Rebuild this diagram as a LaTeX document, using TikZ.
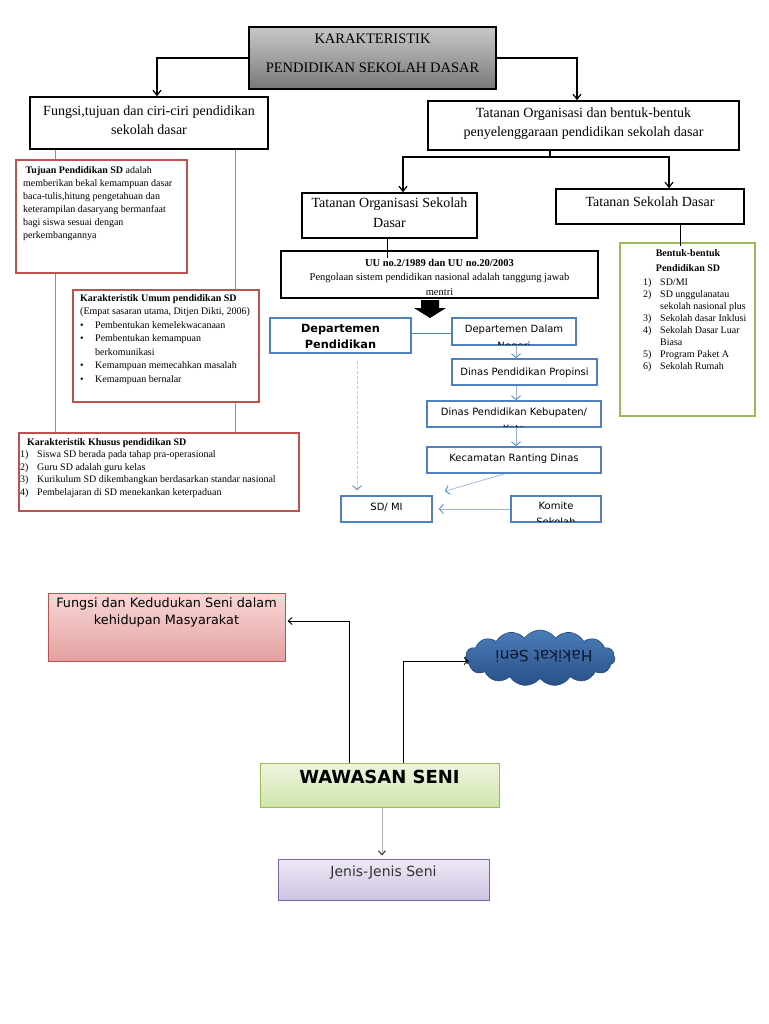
\documentclass[tikz,border=0pt]{standalone}
\usepackage{fontspec}
\setmainfont{Liberation Serif}
\newfontfamily\dejavu{DejaVu Sans}
\usetikzlibrary{arrows.meta,shapes.symbols}
\definecolor{pinkb}{RGB}{192,80,77}
\definecolor{pinkl}{RGB}{205,115,115}
\definecolor{blueb}{RGB}{79,129,189}
\definecolor{bluel}{RGB}{150,180,220}
\definecolor{greenb}{RGB}{155,187,89}
\definecolor{purpb}{RGB}{128,100,162}
\definecolor{cloudf}{RGB}{55,100,160}
\definecolor{cloudd}{RGB}{35,70,120}
\begin{document}
\begin{tikzpicture}[x=1pt,y=-1pt,
  bx/.style={draw, inner sep=0pt},
  blk/.style={bx, draw=black, line width=1.6pt},
  pk/.style={bx, draw=pinkb, line width=1.6pt},
  bl/.style={bx, draw=blueb, line width=1.4pt},
  gr/.style={bx, draw=greenb, line width=1.8pt},
  txt/.style={inner sep=0pt},
  arr/.style={line width=1.2pt, -{Straight Barb[length=5pt,width=8pt]}},
  arrs/.style={line width=0.9pt, -{Straight Barb[length=4pt,width=7pt]}},
  barr/.style={bluel, line width=0.7pt, -{Straight Barb[length=4pt,width=9pt,line width=1pt,color=blueb!85]}},
  pline/.style={pinkl, line width=1pt}
]
\useasboundingbox (0,0) rectangle (768,1024);
\fill[white] (0,0) rectangle (768,1024);

% ---------- top part ----------
\node[bx, draw=black, line width=2pt, minimum width=247pt, minimum height=62pt,
      top color={rgb,255:red,200;green,200;blue,200}, bottom color={rgb,255:red,120;green,120;blue,120}]
      (title) at (372.5,58) {};
\node[txt, anchor=base, align=center, font=\fontsize{14.5}{29}\selectfont] (titleT) at (372.5,73)
      {KARAKTERISTIK\\PENDIDIKAN SEKOLAH DASAR};

\node[blk, minimum width=238pt, minimum height=52pt] (fungsi) at (149,123) {};
\node[txt, anchor=base, align=center, font=\fontsize{14}{19}\selectfont] (fungsiT) at (149,135)
      {Fungsi,tujuan dan ciri-ciri pendidikan\\sekolah dasar};

\node[blk, minimum width=311pt, minimum height=49pt] (tatanan) at (583.5,125.5) {};
\node[txt, anchor=base, align=center, font=\fontsize{14}{19}\selectfont] (tatananT) at (583.5,137)
      {Tatanan Organisasi dan bentuk-bentuk\\penyelenggaraan pendidikan sekolah dasar};

\node[blk, minimum width=175pt, minimum height=45pt] (tos) at (389.5,215.5) {};
\node[txt, anchor=base, align=center, font=\fontsize{14}{20}\selectfont] (tosT) at (389.5,228)
      {Tatanan Organisasi Sekolah\\Dasar};

\node[blk, minimum width=188pt, minimum height=35pt] (tsd) at (650,206.5) {};
\node[txt, anchor=base, font=\fontsize{14}{18}\selectfont] (tsdT) at (650,207) {Tatanan Sekolah Dasar};

\node[blk, minimum width=317pt, minimum height=47pt] (uu) at (439.5,274.5) {};
\node[txt, anchor=base, align=center, font=\fontsize{10.5}{14.5}\selectfont] (uuT) at (439.5,295)
      {\textbf{UU no.2/1989 dan UU no.20/2003}\\Pengolaan sistem pendidikan nasional adalah tanggung jawab\\mentri};

% connectors top
\draw[arr] (title.west) -| ([xshift=8pt]fungsi.north);
\draw[arr] (title.east) -| ([xshift=-6.5pt]tatanan.north);
\coordinate (sp) at (550,157);
\draw[line width=1.2pt] ([xshift=-33.5pt]tatanan.south) -- (sp);
\draw[arr] (sp) -| ([xshift=13.5pt]tos.north);
\draw[arr] (sp) -| ([xshift=19pt]tsd.north);
\draw[line width=1pt] ([xshift=-2.5pt]tos.south) -- ([xshift=-2.5pt,yshift=-8pt]tos.south |- uu.north);

% big black arrow
\fill (421,300) -- (439,300) -- (439,308) -- (446,308) -- (430,318) -- (414,308) -- (421,308) -- cycle;

% ---------- left pink boxes ----------
\node[pk, minimum width=171pt, minimum height=113pt] (tujuan) at (101.5,216.5) {};
\node[txt, anchor=base west, align=left, font=\fontsize{10}{13.2}\selectfont] (tujuanT) at (23,239)
      {\ \textbf{Tujuan Pendidikan SD} adalah\\memberikan bekal kemampuan dasar\\baca-tulis,hitung pengetahuan dan\\keterampilan dasaryang bermanfaat\\bagi siswa sesuai dengan\\perkembangannya};

\node[pk, minimum width=186pt, minimum height=112pt] (umum) at (166,346) {};
\node[txt, anchor=base west, align=left, font=\fontsize{10}{13.5}\selectfont] (umumT) at (80,382)
      {\textbf{Karakteristik Umum pendidikan SD}\\(Empat sasaran utama, Ditjen Dikti, 2006)\\
       \makebox[15pt][l]{\textbullet}Pembentukan kemelekwacanaan\\
       \makebox[15pt][l]{\textbullet}Pembentukan kemampuan\\
       \hspace*{15pt}berkomunikasi\\
       \makebox[15pt][l]{\textbullet}Kemampuan memecahkan masalah\\
       \makebox[15pt][l]{\textbullet}Kemampuan bernalar};

\node[pk, minimum width=280pt, minimum height=78pt] (khusus) at (159,472) {};
\node[txt, anchor=base west, align=left, font=\fontsize{10}{12.5}\selectfont] (khususT) at (20,495)
      {\hspace*{7pt}\textbf{Karakteristik Khusus pendidikan SD}\\
       \makebox[17pt][l]{1)}Siswa SD berada pada tahap pra-operasional\\
       \makebox[17pt][l]{2)}Guru SD adalah guru kelas\\
       \makebox[17pt][l]{3)}Kurikulum SD dikembangkan berdasarkan standar nasional\\
       \makebox[17pt][l]{4)}Pembelajaran di SD menekankan keterpaduan};

\draw[pline] ([xshift=40pt]tujuan.north west |- fungsi.south) -- ([xshift=40pt]tujuan.north west);
\draw[pline] ([xshift=40pt]tujuan.south west) -- ([xshift=40pt]tujuan.south west |- khusus.north);
\draw[pline] ([xshift=163pt]umum.north west |- fungsi.south) -- ([xshift=163pt]umum.north west);
\draw[pline] ([xshift=163pt]umum.south west) -- ([xshift=163pt]umum.south west |- khusus.north);

% ---------- right green box ----------
\node[gr, minimum width=135pt, minimum height=173pt] (bentuk) at (687.5,329.5) {};
\node[txt, anchor=base, align=center, font=\fontsize{10}{15}\selectfont\bfseries] (bentukT) at (688,271)
      {Bentuk-bentuk\\Pendidikan SD};
\node[txt, anchor=base west, align=left, font=\fontsize{10}{12}\selectfont] (bentukL) at (643,369)
      {\makebox[17pt][l]{1)}SD/MI\\
       \makebox[17pt][l]{2)}SD unggulanatau\\
       \hspace*{17pt}sekolah nasional plus\\
       \makebox[17pt][l]{3)}Sekolah dasar Inklusi\\
       \makebox[17pt][l]{4)}Sekolah Dasar Luar\\
       \hspace*{17pt}Biasa\\
       \makebox[17pt][l]{5)}Program Paket A\\
       \makebox[17pt][l]{6)}Sekolah Rumah};
\draw[line width=1pt] ([xshift=30pt]tsd.south) -- ([xshift=30pt,yshift=-4pt]tsd.south |- bentuk.north);

% ---------- blue boxes ----------
\node[bl, minimum width=141pt, minimum height=35pt] (deppend) at (340.5,335.5) {};
\node[txt, anchor=base, align=center, font=\dejavu\fontsize{11.3}{16}\selectfont\bfseries] (deppendT) at (340.5,348)
      {Departemen\\Pendidikan};

\node[bl, minimum width=124pt, minimum height=27pt] (depdalam) at (514,331.5) {};
\begin{scope}
\clip (452,318) rectangle (576,344);
\node[txt, anchor=base, align=center, font=\dejavu\fontsize{10}{17}\selectfont] (depdalamT) at (514,349)
      {Departemen Dalam\\Negeri};
\end{scope}

\node[bl, minimum width=145pt, minimum height=26pt] (propinsi) at (524.5,372) {};
\node[txt, anchor=base, font=\dejavu\fontsize{10}{14}\selectfont] (propinsiT) at (524.5,375)
      {Dinas Pendidikan Propinsi};

\node[bl, minimum width=174pt, minimum height=26pt] (kab) at (514,414) {};
\begin{scope}
\clip (427,401) rectangle (601,426);
\node[txt, anchor=base, align=center, font=\dejavu\fontsize{10}{17}\selectfont] (kabT) at (514,432)
      {Dinas Pendidikan Kebupaten/\\Kota};
\end{scope}

\node[bl, minimum width=174pt, minimum height=26pt] (kec) at (514,460) {};
\node[txt, anchor=base, font=\dejavu\fontsize{10}{14}\selectfont] (kecT) at (514,461)
      {Kecamatan Ranting Dinas};

\node[bl, minimum width=91pt, minimum height=26pt] (sd) at (386.5,509) {};
\node[txt, anchor=base, font=\dejavu\fontsize{10}{14}\selectfont] (sdT) at (386.5,510) {SD/ MI};

\node[bl, minimum width=90pt, minimum height=26pt] (komite) at (556,509) {};
\begin{scope}
\clip (511,496) rectangle (601,521);
\node[txt, anchor=base, align=center, font=\dejavu\fontsize{10}{16}\selectfont] (komiteT) at (556,525)
      {Komite\\Sekolah};
\end{scope}

\draw[blueb, line width=1pt] (deppend.east |- 0,333) -- (depdalam.west |- 0,333);
\draw[barr] ([xshift=2pt]depdalam.south) -- ([xshift=2pt]depdalam.south |- propinsi.north);
\draw[barr] (propinsi.south -| 516,0) -- (kab.north -| 516,0);
\draw[barr] (kab.south -| 516,0) -- (kec.north -| 516,0);
\draw[barr, densely dashed, bluel!70, shorten >=5pt] ([xshift=16.5pt,yshift=-7pt]deppend.south) -- ([xshift=16.5pt]deppend.south |- sd.north);
\draw[barr] ([xshift=-9pt]kec.south) -- ([xshift=12pt,yshift=4pt]sd.north east);
\draw[barr] (komite.west) -- ([xshift=6pt]sd.east);

% ---------- bottom part ----------
\node[bx, draw=pinkb, line width=1pt, minimum width=237pt, minimum height=68pt,
      top color={rgb,255:red,248;green,215;blue,215}, bottom color={rgb,255:red,228;green,160;blue,160}]
      (fseni) at (166.5,627) {};
\node[txt, anchor=base, align=center, font=\dejavu\fontsize{12.8}{17}\selectfont] (fseniT) at (166.5,624)
      {Fungsi dan Kedudukan Seni dalam\\kehidupan Masyarakat};

\node[cloud, cloud puffs=15, cloud puff arc=110, aspect=2.7, minimum width=150pt, minimum height=56pt,
      inner sep=0pt, draw=cloudd, line width=0.6pt,
      top color={rgb,255:red,75;green,125;blue,185}, bottom color={rgb,255:red,40;green,80;blue,135}]
      (cloud) at (540,658) {};
\node[txt, rotate=180, font=\dejavu\fontsize{15.5}{15.5}\selectfont, text={rgb,255:red,15;green,25;blue,45}] (cloudT) at (544,656)
      {Hakikat Seni};

\node[bx, draw=greenb, line width=1pt, minimum width=239pt, minimum height=44pt,
      top color={rgb,255:red,238;green,246;blue,224}, bottom color={rgb,255:red,208;green,228;blue,172}]
      (wawasan) at (379.5,785) {};
\node[txt, anchor=base, font=\dejavu\fontsize{18}{20}\selectfont\bfseries] (wawasanT) at (379.5,783)
      {WAWASAN SENI};

\node[bx, draw=purpb, line width=1pt, minimum width=211pt, minimum height=41pt,
      top color={rgb,255:red,238;green,234;blue,246}, bottom color={rgb,255:red,205;green,194;blue,225}]
      (jenis) at (383.5,879.5) {};
\node[txt, anchor=base, font=\dejavu\fontsize{14}{16}\selectfont, text=black!80] (jenisT) at (383.5,876)
      {Jenis-Jenis Seni};

\draw[arrs] ([xshift=-30.5pt]wawasan.north) |- ([xshift=2pt,yshift=6pt]fseni.east);
\draw[arrs] ([xshift=23.5pt]wawasan.north) |- ([xshift=4pt,yshift=-3pt]cloud.west);
\draw[black!30, line width=0.8pt, -{Straight Barb[length=4pt,width=7pt,line width=1pt,color=black!80]}, shorten >=3pt]
      ([xshift=2.5pt]wawasan.south) -- ([xshift=2.5pt]wawasan.south |- jenis.north);
\end{tikzpicture}
\end{document}
